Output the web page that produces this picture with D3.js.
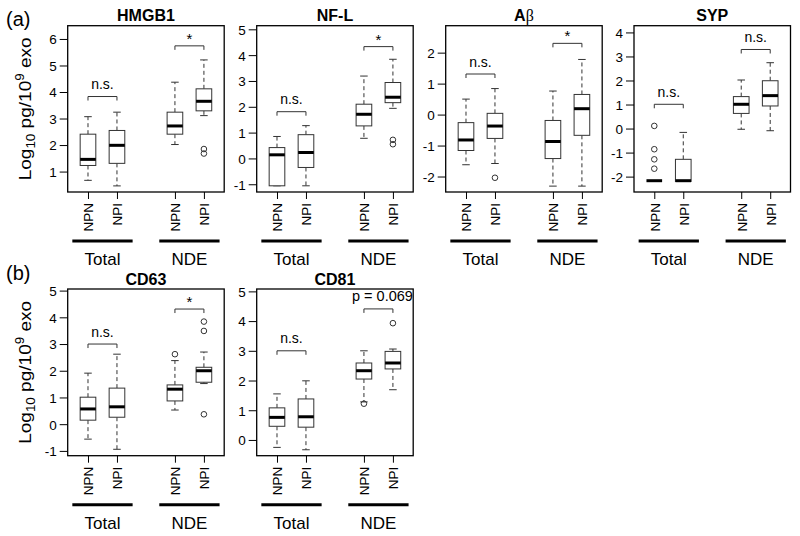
<!DOCTYPE html>
<html>
<head>
<meta charset="utf-8">
<script src="https://cdn.jsdelivr.net/npm/d3@7"></script>
<style>
  body { margin: 0; background: #fff; }
  svg { display: block; }
  text { font-family: "Liberation Sans", Arial, Helvetica, sans-serif; fill: #000; }
</style>
</head>
<body>
<script>
// ---------- DATA ----------
const categories = ["NPN", "NPI", "NPN", "NPI"];
const groups = ["Total", "NDE"];
const titles = ["HMGB1", "NF-L", "Aβ", "SYP", "CD63", "CD81"];

// box stats per category: [lower whisker, Q1, median, Q3, upper whisker]
const hmgb1Stats = [[0.67, 1.23, 1.46, 2.41, 3.07], [0.46, 1.31, 1.99, 2.55, 3.24], [2.02, 2.41, 2.72, 3.24, 4.37], [3.11, 3.29, 3.65, 4.12, 5.21]];
const nflStats   = [[-1.06, -1.06, 0.14, 0.42, 0.85], [-1.06, -0.35, 0.23, 0.92, 1.27], [0.78, 1.26, 1.71, 2.10, 3.19], [1.94, 2.16, 2.37, 2.94, 3.84]];
const abStats    = [[-1.62, -1.16, -0.82, -0.26, 0.50], [-1.58, -0.77, -0.37, 0.04, 0.84], [-2.31, -1.42, -0.87, -0.19, 0.76], [-2.31, -0.67, 0.19, 0.65, 1.78]];
const sypStats   = [[-2.17, -2.17, -2.17, -2.17, -2.17], [-2.20, -2.20, -2.17, -1.28, -0.16], [-0.03, 0.63, 1.01, 1.33, 2.02], [-0.09, 0.94, 1.37, 1.99, 2.74]];
const cd63Stats  = [[-0.56, 0.15, 0.57, 1.01, 1.91], [-0.94, 0.26, 0.65, 1.35, 2.62], [0.53, 0.87, 1.31, 1.47, 2.38], [1.52, 1.57, 2.00, 2.13, 2.70]];
const cd81Stats  = [[-0.25, 0.46, 0.76, 1.08, 1.55], [-0.33, 0.43, 0.78, 1.38, 1.99], [1.28, 2.05, 2.33, 2.59, 3.00], [1.69, 2.39, 2.59, 2.98, 3.06]];

// outliers per category
const hmgb1Outliers = [[], [], [], [1.85, 1.68]];
const nflOutliers   = [[], [], [], [0.72, 0.55]];
const abOutliers    = [[], [-2.04], [], []];
const sypOutliers   = [[0.11, -0.86, -1.28, -1.67], [], [], []];
const cd63Outliers  = [[], [], [2.62], [3.84, 3.49, 0.37]];
const cd81Outliers  = [[], [], [1.22], [3.93]];

// significance brackets: [Total, NDE] labels and heights (data units)
const hmgb1Sig = [["n.s.", 3.83], ["*", 5.74]];
const nflSig   = [["n.s.", 1.81], ["*", 4.33]];
const abSig    = [["n.s.", 1.31], ["*", 2.30]];
const sypSig   = [["n.s.", 1.01], ["n.s.", 3.29]];
const cd63Sig  = [["n.s.", 3.00], ["*", 4.31]];
const cd81Sig  = [["n.s.", 3.00], ["p = 0.069", 4.41]];

// y tick labels
const hmgb1Ticks = [1, 2, 3, 4, 5, 6];
const nflTicks   = [-1, 0, 1, 2, 3, 4, 5];
const abTicks    = [-2, -1, 0, 1, 2];
const sypTicks   = [-2, -1, 0, 1, 2, 3, 4];
const cd63Ticks  = [-1, 0, 1, 2, 3, 4, 5];
const cd81Ticks  = [0, 1, 2, 3, 4, 5];

const panelLetters = ["(a)", "(b)"];

// ---------- LAYOUT ----------
const positions = [1, 2, 4, 5];
const xDomain = [0.3, 5.7];
const yDomains = [[0.23, 6.5], [-1.3, 5.14], [-2.5, 2.87], [-2.64, 4.28], [-1.18, 5.06], [-0.53, 5.08]];
const panelLeft = [67.7, 256.7, 445.7, 634];
const panelW = 156.5;
const rowTop = [25.7, 289];
const rowBottom = [192, 455.7];

const statsAll = [hmgb1Stats, nflStats, abStats, sypStats, cd63Stats, cd81Stats];
const outAll = [hmgb1Outliers, nflOutliers, abOutliers, sypOutliers, cd63Outliers, cd81Outliers];
const sigAll = [hmgb1Sig, nflSig, abSig, sypSig, cd63Sig, cd81Sig];
const ticksAll = [hmgb1Ticks, nflTicks, abTicks, sypTicks, cd63Ticks, cd81Ticks];

const svg = d3.select("body").append("svg").attr("width", 800).attr("height", 536);
svg.append("rect").attr("width", 800).attr("height", 536).attr("fill", "#fff");

const boxColor = "#333";

titles.forEach((title, i) => {
  const row = i < 4 ? 0 : 1;
  const col = i < 4 ? i : i - 4;
  const left = panelLeft[col], top = rowTop[row], bottom = rowBottom[row];
  const x = d3.scaleLinear().domain(xDomain).range([left, left + panelW]);
  const y = d3.scaleLinear().domain(yDomains[i]).range([bottom, top]);
  const g = svg.append("g");

  // y axis
  const ya = g.append("g").attr("transform", `translate(${left},0)`)
    .call(d3.axisLeft(y).tickValues(ticksAll[i]).tickSize(8).tickPadding(3).tickFormat(d => String(d)));
  ya.select(".domain").remove();
  ya.selectAll("line").attr("stroke", "#000");
  ya.selectAll("text").style("font-size", "13.5px").attr("dy", "0.36em");

  // x axis
  const xa = g.append("g").attr("transform", `translate(0,${bottom})`)
    .call(d3.axisBottom(x).tickValues(positions).tickSize(7).tickFormat((d, j) => categories[j]));
  xa.select(".domain").remove();
  xa.selectAll("line").attr("stroke", "#000");
  xa.selectAll("text").style("font-size", "13.5px")
    .attr("transform", "rotate(-90)").attr("x", -11).attr("y", 0)
    .attr("dy", "0.36em").attr("text-anchor", "end");

  // group underlines + labels
  groups.forEach((grp, k) => {
    const c = k === 0 ? 1.5 : 4.5;
    g.append("line").attr("x1", x(c - 1.04)).attr("x2", x(c + 1.04))
      .attr("y1", bottom + 49).attr("y2", bottom + 49)
      .attr("stroke", "#000").attr("stroke-width", 3);
    g.append("text").attr("x", x(c)).attr("y", bottom + 73)
      .attr("text-anchor", "middle").style("font-size", "17px").text(grp);
  });

  // boxes
  statsAll[i].forEach((s, j) => {
    const p = positions[j];
    const [lo, q1, med, q3, hi] = s;
    const bw = 0.27, cw = 0.13;
    g.append("line").attr("x1", x(p)).attr("x2", x(p)).attr("y1", y(q3)).attr("y2", y(hi))
      .attr("stroke", boxColor).attr("stroke-dasharray", "4,3");
    g.append("line").attr("x1", x(p)).attr("x2", x(p)).attr("y1", y(q1)).attr("y2", y(lo))
      .attr("stroke", boxColor).attr("stroke-dasharray", "4,3");
    [lo, hi].forEach(v => g.append("line").attr("x1", x(p - cw)).attr("x2", x(p + cw))
      .attr("y1", y(v)).attr("y2", y(v)).attr("stroke", boxColor));
    g.append("rect").attr("x", x(p - bw)).attr("width", x(p + bw) - x(p - bw))
      .attr("y", y(q3)).attr("height", Math.max(0, y(q1) - y(q3)))
      .attr("fill", "#fff").attr("stroke", boxColor);
    g.append("line").attr("x1", x(p - bw)).attr("x2", x(p + bw)).attr("y1", y(med)).attr("y2", y(med))
      .attr("stroke", "#000").attr("stroke-width", 3);
    outAll[i][j].forEach(v => g.append("circle").attr("cx", x(p)).attr("cy", y(v)).attr("r", 2.8)
      .attr("fill", "none").attr("stroke", boxColor));
  });

  // significance brackets
  sigAll[i].forEach((sg, k) => {
    const a = k === 0 ? 1 : 4, b = a + 1;
    const yy = y(sg[1]);
    g.append("path").attr("d", `M${x(a)},${yy + 4}V${yy}H${x(b)}V${yy + 4}`)
      .attr("fill", "none").attr("stroke", boxColor);
    const star = sg[0] === "*";
    const longT = sg[0].length > 4;
    g.append("text").attr("x", (x(a) + x(b)) / 2 + (longT ? 4 : 0)).attr("y", yy - (star ? 2 : 7.5))
      .attr("text-anchor", "middle").style("font-size", star ? "15px" : (longT ? "14.5px" : "14px")).text(sg[0]);
  });

  // frame
  g.append("rect").attr("x", left).attr("y", top).attr("width", panelW).attr("height", bottom - top)
    .attr("fill", "none").attr("stroke", "#000").attr("stroke-width", 1.3);

  // title
  const t = g.append("text").attr("x", left + panelW / 2).attr("y", top - 4.5)
    .attr("text-anchor", "middle").style("font-size", "16px").style("font-weight", "bold");
  if (title === "Aβ") {
    t.append("tspan").text("A");
    t.append("tspan").style("font-weight", "normal").style("font-family", "'Liberation Serif', 'DejaVu Serif', serif").text("β");
  } else {
    t.text(title);
  }

  // y label (first column)
  if (col === 0) {
    const cy = (top + bottom) / 2;
    const lab = svg.append("text")
      .attr("transform", `translate(31,${cy}) rotate(-90) scale(1.12,1)`)
      .attr("text-anchor", "middle").style("font-size", "17px");
    lab.append("tspan").text("Log");
    lab.append("tspan").style("font-size", "12px").attr("dy", 4).text("10");
    lab.append("tspan").attr("dy", -4).text(" pg/10");
    lab.append("tspan").style("font-size", "12px").attr("dy", -7).text("9");
    lab.append("tspan").attr("dy", 7).text(" exo");
  }
});

// panel letters
svg.append("text").attr("x", 6).attr("y", 26).style("font-size", "20px").text(panelLetters[0]);
svg.append("text").attr("x", 6).attr("y", 280).style("font-size", "20px").text(panelLetters[1]);
</script>
</body>
</html>
